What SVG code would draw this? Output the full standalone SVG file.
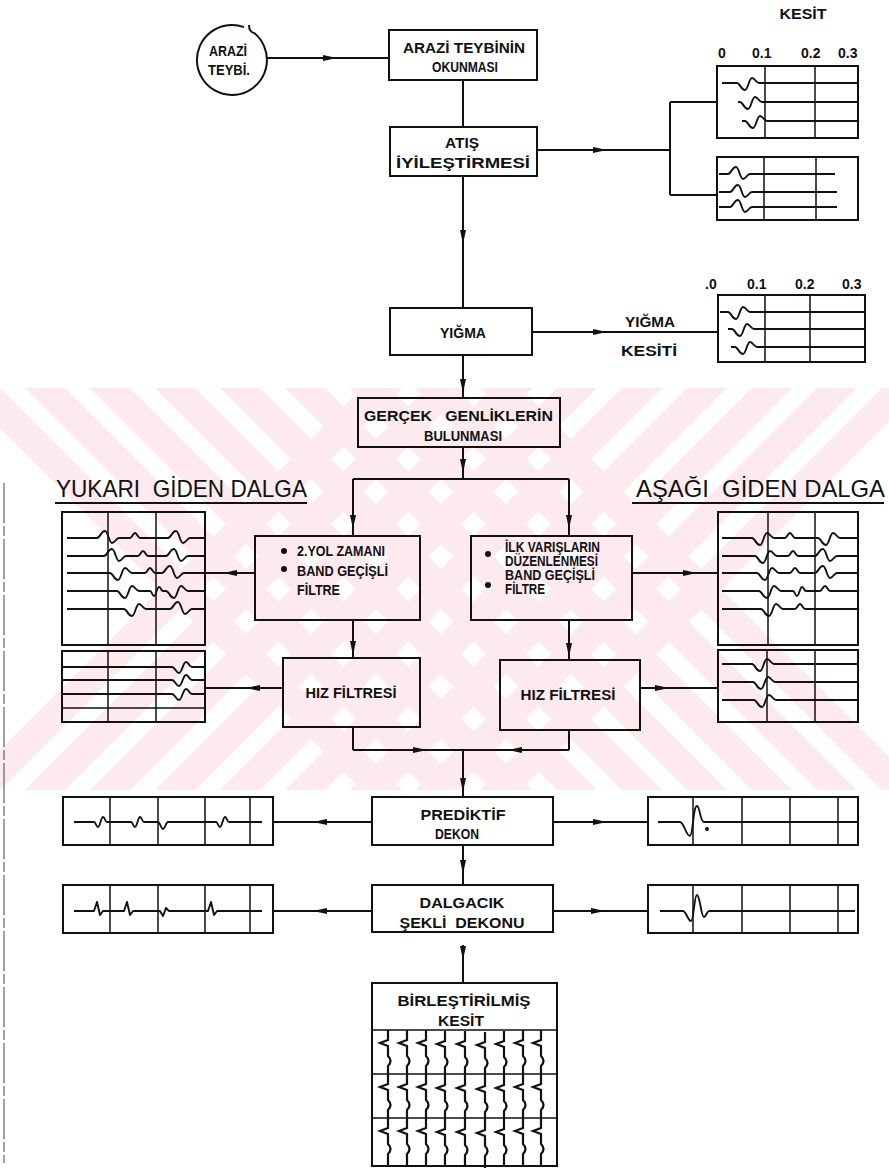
<svg xmlns="http://www.w3.org/2000/svg" width="889" height="1172" viewBox="0 0 889 1172">
<defs>
<style>
.bx{fill:none;stroke:#111;stroke-width:2}
.ln{fill:none;stroke:#111;stroke-width:2}
.tr{fill:none;stroke:#111;stroke-width:1.9;stroke-linejoin:round}
.bt{fill:none;stroke:#111;stroke-width:2.2;stroke-linejoin:miter}
.gr{fill:none;stroke:#111;stroke-width:1.5}
.ar{fill:none;stroke:#111;stroke-width:2;marker-mid:url(#ah)}
text{font-family:"Liberation Sans",Arial,sans-serif;font-weight:bold;font-size:14px;fill:#111}
.c{text-anchor:middle}
.hd{font-weight:normal;font-size:24px}
.ax{font-size:14px}
.wm{fill:#fdeaee}
</style>
<marker id="ah" viewBox="-7 -3.5 14 7" markerWidth="14" markerHeight="7" refX="0" refY="0" orient="auto" markerUnits="userSpaceOnUse"><path d="M-7,-3 L7,0 L-7,3 z" fill="#111"/></marker>
<clipPath id="wmclip"><rect x="0" y="388" width="889" height="402"/></clipPath>
<path id="bt" d="M0,0 V10 l-8,3 l8,3 V26 q5,5 0,10 V54 l-8,3 l8,3 V70 q5,5 0,10 V98 l-8,3 l8,3 V114 q5,5 0,10 V136"/>
</defs>

<g id="watermark" clip-path="url(#wmclip)">
<polygon class="wm" points="-40,790 0,790 402,388 362,388"/>
<polygon class="wm" points="25,790 65,790 467,388 427,388"/>
<polygon class="wm" points="90,790 130,790 532,388 492,388"/>
<polygon class="wm" points="155,790 195,790 597,388 557,388"/>
<polygon class="wm" points="220,790 260,790 662,388 622,388"/>
<polygon class="wm" points="285,790 325,790 727,388 687,388"/>
<polygon class="wm" points="350,790 390,790 792,388 752,388"/>
<polygon class="wm" points="415,790 455,790 857,388 817,388"/>
<polygon class="wm" points="480,790 520,790 922,388 882,388"/>
<polygon class="wm" points="-40,388 0,388 402,790 362,790"/>
<polygon class="wm" points="25,388 65,388 467,790 427,790"/>
<polygon class="wm" points="90,388 130,388 532,790 492,790"/>
<polygon class="wm" points="155,388 195,388 597,790 557,790"/>
<polygon class="wm" points="220,388 260,388 662,790 622,790"/>
<polygon class="wm" points="285,388 325,388 727,790 687,790"/>
<polygon class="wm" points="350,388 390,388 792,790 752,790"/>
<polygon class="wm" points="415,388 455,388 857,790 817,790"/>
<polygon class="wm" points="480,388 520,388 922,790 882,790"/>
</g>

<path d="M4,483 V1163" stroke="#444" stroke-width="1" stroke-dasharray="40 3 10 3" fill="none"/>

<g id="connectors">
<path class="ar" d="M267,58 L330,58 L389,58"/>
<path class="ln" d="M463,80 V127"/>
<path class="ar" d="M537,150 L600,150 L670,150"/>
<path class="ln" d="M670,102 V195 M670,102 H717 M670,195 H717"/>
<path class="ar" d="M463,176 L463,237 L463,308"/>
<path class="ar" d="M532,332 L600,332 L718,332"/>
<path class="ar" d="M463,355 L463,386 L463,398"/>
<path class="ar" d="M463,447 L463,466 L463,479"/>
<path class="ln" d="M353,479 H569"/>
<path class="ar" d="M353,479 L353,522 L353,536"/>
<path class="ar" d="M569,479 L569,522 L569,536"/>
<path class="ar" d="M255,573 L230,573 L205,573"/>
<path class="ar" d="M632,573 L690,573 L718,573"/>
<path class="ar" d="M353,620 L353,648 L353,658"/>
<path class="ar" d="M569,620 L569,650 L569,660"/>
<path class="ar" d="M283,688 L253,688 L205,688"/>
<path class="ar" d="M640,688 L662,688 L718,688"/>
<path class="ln" d="M353,727 V750 M569,730 V750"/>
<path class="ar" d="M353,750 L420,750 L463,750"/>
<path class="ar" d="M569,750 L515,750 L463,750"/>
<path class="ar" d="M463,750 L463,785 L463,797"/>
<path class="ar" d="M372,822 L320,822 L273,822"/>
<path class="ar" d="M553,822 L600,822 L648,822"/>
<path class="ar" d="M463,845 L463,867 L463,885"/>
<path class="ar" d="M372,911 L320,911 L273,911"/>
<path class="ar" d="M553,911 L598,911 L648,911"/>
<path class="ar" d="M463,945 L463,953 L463,983"/>
</g>

<g id="arazi-teybi">
<path class="bx" d="M244,27.1 A35,35 0 1 0 254.5,33.2 Q249,32 249,25"/>
<text class="c" x="228" y="56" textLength="38" lengthAdjust="spacingAndGlyphs">ARAZİ</text>
<text class="c" x="229" y="75" textLength="42" lengthAdjust="spacingAndGlyphs">TEYBİ.</text>
</g>

<g id="okunma">
<rect class="bx" x="389" y="30" width="148" height="50"/>
<text class="c" x="464" y="53" textLength="122" lengthAdjust="spacingAndGlyphs">ARAZİ TEYBİNİN</text>
<text class="c" x="465" y="72" textLength="66" lengthAdjust="spacingAndGlyphs">OKUNMASI</text>
</g>

<g id="atis">
<rect class="bx" x="390" y="127" width="147" height="49"/>
<text class="c" x="462" y="148" textLength="34" lengthAdjust="spacingAndGlyphs">ATIŞ</text>
<text class="c" x="463" y="168" textLength="134" lengthAdjust="spacingAndGlyphs">İYİLEŞTİRMESİ</text>
</g>

<g id="kesit-panel-1">
<text class="c" x="803" y="19" textLength="47" lengthAdjust="spacingAndGlyphs">KESİT</text>
<text class="ax" x="718" y="58">0</text>
<text class="ax" x="752" y="58">0.1</text>
<text class="ax" x="801" y="58">0.2</text>
<text class="ax" x="838" y="58">0.3</text>
<rect class="bx" x="717" y="66" width="141" height="72"/>
<path class="gr" d="M765,66 V138 M815,66 V138"/>
<path class="tr" d="M722,83 H737 c3,0 4,7 8,7 c3,0 4,-12 7,-12 c3,0 4,5 7,5 H858"/>
<path class="tr" d="M738,102 H740 c3,0 4,7 8,7 c3,0 4,-12 7,-12 c3,0 4,5 7,5 H858"/>
<path class="tr" d="M742,121 H745 c3,0 4,7 8,7 c3,0 4,-12 7,-12 c3,0 4,5 7,5 H858"/>
</g>

<g id="kesit-panel-2">
<rect class="bx" x="717" y="157" width="141" height="63"/>
<path class="gr" d="M764,157 V220 M816,157 V220"/>
<path class="tr" d="M719,174 H728 c3,0 4,-7 8,-7 c3,0 4,12 7,12 c3,0 4,-5 7,-5 H835"/>
<path class="tr" d="M719,192 H730 c3,0 4,-7 8,-7 c3,0 4,12 7,12 c3,0 4,-5 7,-5 H837"/>
<path class="tr" d="M719,207 H730 c3,0 4,-7 8,-7 c3,0 4,12 7,12 c3,0 4,-5 7,-5 H837"/>
</g>

<g id="yigma">
<rect class="bx" x="390" y="308" width="142" height="47"/>
<text class="c" x="463" y="338" textLength="46" lengthAdjust="spacingAndGlyphs">YIĞMA</text>
</g>

<g id="yigma-kesiti">
<text class="c" x="650" y="327" textLength="50" lengthAdjust="spacingAndGlyphs">YIĞMA</text>
<text class="c" x="649" y="356" textLength="56" lengthAdjust="spacingAndGlyphs">KESİTİ</text>
<text class="ax" x="705" y="289">.0</text>
<text class="ax" x="747" y="289">0.1</text>
<text class="ax" x="795" y="289">0.2</text>
<text class="ax" x="842" y="289">0.3</text>
<rect class="bx" x="718" y="295" width="147" height="67"/>
<path class="gr" d="M765,295 V362 M810,295 V362"/>
<path class="tr" d="M720,312 H728 c3,0 4,7 8,7 c3,0 4,-12 7,-12 c3,0 4,5 7,5 H865"/>
<path class="tr" d="M728,329 H732 c3,0 4,7 8,7 c3,0 4,-12 7,-12 c3,0 4,5 7,5 H865"/>
<path class="tr" d="M731,347 H735 c3,0 4,7 8,7 c3,0 4,-12 7,-12 c3,0 4,5 7,5 H865"/>
</g>

<g id="gercek">
<rect class="bx" x="358" y="398" width="202" height="49"/>
<text x="364" y="421" textLength="189" lengthAdjust="spacingAndGlyphs" xml:space="preserve">GERÇEK   GENLİKLERİN</text>
<text class="c" x="463" y="441" textLength="78" lengthAdjust="spacingAndGlyphs">BULUNMASI</text>
</g>

<g id="yukari">
<text class="hd" x="56" y="497" textLength="251" lengthAdjust="spacingAndGlyphs" xml:space="preserve">YUKARI  GİDEN DALGA</text>
<path class="ln" d="M55,503 H307"/>
<rect class="bx" x="62" y="512" width="143" height="133"/>
<path class="gr" d="M108,512 V645 M156,512 V645"/>
<path class="tr" d="M67,538 H97 c3,0 4,-7 8,-7 c3,0 4,12 7,12 c3,0 4,-5 7,-5 H130 c2,0 3,-5 5,-5 c2,0 3,5 5,5 H168 c3,0 4,-7 8,-7 c3,0 4,12 7,12 c3,0 4,-5 7,-5 H205"/>
<path class="tr" d="M67,556 H104 c3,0 4,-7 8,-7 c3,0 4,12 7,12 c3,0 4,-5 7,-5 H138 c2,0 3,-5 5,-5 c2,0 3,5 5,5 H166 c3,0 4,-7 8,-7 c3,0 4,12 7,12 c3,0 4,-5 7,-5 H205"/>
<path class="tr" d="M67,573 H110 c3,0 4,7 8,7 c3,0 4,-12 7,-12 c3,0 4,5 7,5 H145 c2,0 3,-5 5,-5 c2,0 3,5 5,5 H162 c3,0 4,-7 8,-7 c3,0 4,12 7,12 c3,0 4,-5 7,-5 H205"/>
<path class="tr" d="M67,591 H117 c3,0 4,7 8,7 c3,0 4,-12 7,-12 c3,0 4,5 7,5 H150 c2,0 2,5 4,5 c2,0 3,-9 5,-9 c2,0 2,4 4,4 H166 c3,0 4,7 8,7 c3,0 4,-12 7,-12 c3,0 4,5 7,5 H205"/>
<path class="tr" d="M67,609 H124 c3,0 4,7 8,7 c3,0 4,-12 7,-12 c3,0 4,5 7,5 H170 c3,0 4,-7 8,-7 c3,0 4,12 7,12 c3,0 4,-5 7,-5 H205"/>
</g>

<g id="asagi">
<text class="hd" x="636" y="497" textLength="249" lengthAdjust="spacingAndGlyphs" xml:space="preserve">AŞAĞI  GİDEN DALGA</text>
<path class="ln" d="M632,503 H884"/>
<rect class="bx" x="718" y="512" width="140" height="133"/>
<path class="gr" d="M768,512 V645 M815,512 V645"/>
<path class="tr" d="M722,538 H752 c3,0 4,7 8,7 c3,0 4,-12 7,-12 c3,0 4,5 7,5 H785 c2,0 3,-5 5,-5 c2,0 3,5 5,5 H818 c3,0 4,7 8,7 c3,0 4,-12 7,-12 c3,0 4,5 7,5 H858"/>
<path class="tr" d="M722,556 H755 c3,0 4,7 8,7 c3,0 4,-12 7,-12 c3,0 4,5 7,5 H788 c2,0 3,-5 5,-5 c2,0 3,5 5,5 H815 c3,0 4,-7 8,-7 c3,0 4,12 7,12 c3,0 4,-5 7,-5 H858"/>
<path class="tr" d="M722,573 H757 c3,0 4,7 8,7 c3,0 4,-12 7,-12 c3,0 4,5 7,5 H790 c2,0 3,-5 5,-5 c2,0 3,5 5,5 H815 c3,0 4,-7 8,-7 c3,0 4,12 7,12 c3,0 4,-5 7,-5 H858"/>
<path class="tr" d="M722,591 H759 c3,0 4,7 8,7 c3,0 4,-12 7,-12 c3,0 4,5 7,5 H793 c2,0 2,5 4,5 c2,0 3,-9 5,-9 c2,0 2,4 4,4 H820 c2,0 3,-5 5,-5 c2,0 3,5 5,5 H858"/>
<path class="tr" d="M722,609 H761 c3,0 4,7 8,7 c3,0 4,-12 7,-12 c3,0 4,5 7,5 H795 c2,0 3,-5 5,-5 c2,0 3,5 5,5 H858"/>
</g>

<g id="yol-zamani">
<rect class="bx" x="255" y="536" width="165" height="84"/>
<circle cx="284" cy="551" r="3" fill="#111"/>
<circle cx="284" cy="569" r="3" fill="#111"/>
<text x="297" y="556" textLength="88" lengthAdjust="spacingAndGlyphs">2.YOL ZAMANI</text>
<text x="297" y="576" textLength="91" lengthAdjust="spacingAndGlyphs">BAND GEÇİŞLİ</text>
<text x="297" y="595" textLength="43" lengthAdjust="spacingAndGlyphs">FİLTRE</text>
</g>

<g id="ilk-varislar">
<rect class="bx" x="471" y="536" width="161" height="84"/>
<circle cx="488" cy="554" r="3" fill="#111"/>
<circle cx="488" cy="585" r="3" fill="#111"/>
<text x="505" y="552" textLength="95" lengthAdjust="spacingAndGlyphs">İLK VARIŞLARIN</text>
<text x="505" y="566" textLength="93" lengthAdjust="spacingAndGlyphs">DÜZENLENMESİ</text>
<text x="505" y="580" textLength="90" lengthAdjust="spacingAndGlyphs">BAND GEÇİŞLİ</text>
<text x="505" y="594" textLength="40" lengthAdjust="spacingAndGlyphs">FİLTRE</text>
</g>

<g id="hiz-sol">
<rect class="bx" x="283" y="658" width="137" height="69"/>
<text class="c" x="351" y="698" textLength="91" lengthAdjust="spacingAndGlyphs">HIZ FİLTRESİ</text>
</g>

<g id="hiz-sag">
<rect class="bx" x="500" y="660" width="140" height="70"/>
<text class="c" x="568" y="700" textLength="95" lengthAdjust="spacingAndGlyphs">HIZ FİLTRESİ</text>
</g>

<g id="panel-hiz-sol">
<rect class="bx" x="62" y="651" width="143" height="71"/>
<path class="gr" d="M108,651 V722 M156,651 V722 M62,708 H205"/>
<path class="tr" d="M62,667 H172 c3,0 4,6 7,6 c3,0 4,-11 7,-11 c3,0 3,5 6,5 H205"/>
<path class="tr" d="M62,680 H172 c3,0 4,6 7,6 c3,0 4,-11 7,-11 c3,0 3,5 6,5 H205"/>
<path class="tr" d="M62,694 H172 c3,0 4,6 7,6 c3,0 4,-11 7,-11 c3,0 3,5 6,5 H205"/>
</g>

<g id="panel-hiz-sag">
<rect class="bx" x="718" y="650" width="140" height="72"/>
<path class="gr" d="M767,650 V722 M815,650 V722"/>
<path class="tr" d="M722,664 H752 c3,0 4,7 8,7 c3,0 4,-12 7,-12 c3,0 4,5 7,5 H858"/>
<path class="tr" d="M722,682 H753 c3,0 4,7 8,7 c3,0 4,-12 7,-12 c3,0 4,5 7,5 H858"/>
<path class="tr" d="M722,700 H754 c3,0 4,7 8,7 c3,0 4,-12 7,-12 c3,0 4,5 7,5 H858"/>
</g>

<g id="prediktif">
<rect class="bx" x="372" y="797" width="181" height="48"/>
<text class="c" x="463" y="820" textLength="85" lengthAdjust="spacingAndGlyphs">PREDİKTİF</text>
<text class="c" x="457" y="839" textLength="44" lengthAdjust="spacingAndGlyphs">DEKON</text>
</g>

<g id="panel-pred-sol">
<rect class="bx" x="63" y="797" width="210" height="48"/>
<path class="gr" d="M110,797 V845 M158,797 V845 M205,797 V845 M250,797 V845"/>
<path class="tr" d="M74,822 H94 c2,0 2,5 4,5 c2,0 3,-10 5,-10 c2,0 2,5 4,5 H131 c2,0 2,5 4,5 c2,0 3,-10 5,-10 c2,0 2,5 4,5 H158 c2,0 3,7 5,7 c2,0 3,-7 5,-7 H216 c2,0 2,5 4,5 c2,0 3,-10 5,-10 c2,0 2,5 4,5 H262"/>
</g>

<g id="panel-pred-sag">
<rect class="bx" x="648" y="797" width="210" height="48"/>
<path class="gr" d="M693,797 V845 M742,797 V845 M790,797 V845 M838,797 V845"/>
<path class="tr" d="M658,822 H680 c4,0 6,14 10,14 c3,0 3,-30 7,-30 c3,0 3,16 7,16 H858"/>
<circle cx="707" cy="829" r="2" fill="#111"/>
</g>

<g id="dalgacik">
<rect class="bx" x="372" y="885" width="181" height="47"/>
<text class="c" x="462" y="908" textLength="85" lengthAdjust="spacingAndGlyphs">DALGACIK</text>
<text class="c" x="462" y="928" textLength="125" lengthAdjust="spacingAndGlyphs" xml:space="preserve">ŞEKLİ  DEKONU</text>
</g>

<g id="panel-dalg-sol">
<rect class="bx" x="63" y="885" width="210" height="48"/>
<path class="gr" d="M110,885 V933 M158,885 V933 M205,885 V933 M250,885 V933"/>
<path class="tr" d="M74,911 H94 l3,-9 l3,13 l3,-4 H124 l3,-9 l3,13 l3,-4 H160 l3,5 l3,-8 l3,3 H208 l3,-9 l3,13 l3,-4 H262"/>
</g>

<g id="panel-dalg-sag">
<rect class="bx" x="648" y="885" width="210" height="48"/>
<path class="gr" d="M693,885 V933 M742,885 V933 M790,885 V933 M838,885 V933"/>
<path class="tr" d="M660,911 H683 c3,0 5,10 8,10 c3,0 3,-26 6,-26 c3,0 4,22 7,22 c2,0 3,-6 5,-6 H855"/>
</g>

<g id="birlestirilmis">
<rect class="bx" x="372" y="983" width="185" height="183"/>
<text class="c" x="464" y="1006" textLength="133" lengthAdjust="spacingAndGlyphs">BİRLEŞTİRİLMİŞ</text>
<text class="c" x="461" y="1026" textLength="46" lengthAdjust="spacingAndGlyphs">KESİT</text>
<path class="gr" d="M372,1030 H557 M372,1074 H557 M372,1118 H557"/>
<g class="bt">
<use href="#bt" x="388" y="1030"/>
<use href="#bt" x="407" y="1030"/>
<use href="#bt" x="426" y="1030"/>
<use href="#bt" x="445" y="1031"/>
<use href="#bt" x="465" y="1031"/>
<use href="#bt" x="485" y="1032"/>
<use href="#bt" x="504" y="1031"/>
<use href="#bt" x="523" y="1030"/>
<use href="#bt" x="541" y="1030"/>
</g>
</g>
</svg>
